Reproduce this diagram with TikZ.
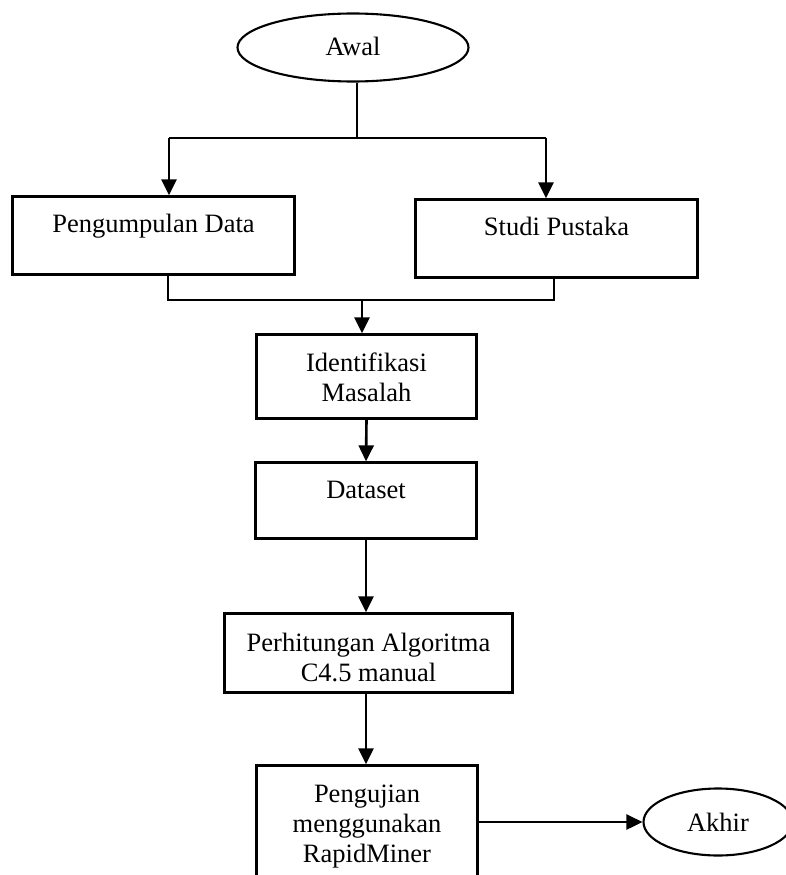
\documentclass[tikz,border=0pt]{standalone}
\usepackage{fontspec}
\setmainfont{Liberation Serif}
\usetikzlibrary{arrows.meta,shapes.geometric}
\begin{document}
\begin{tikzpicture}[x=1pt,y=-1pt,
  txt/.style={font=\fontsize{26.5}{30}\selectfont, align=center, text height=18pt},
  box/.style={txt, draw, line width=2.3pt, rectangle, inner sep=0pt},
  oval/.style={txt, draw, line width=2.1pt, ellipse, inner sep=0pt},
  arr/.style={line width=2.6pt, -{Triangle[length=16pt,width=15pt]}},
  thinline/.style={line width=1.2pt}]
\useasboundingbox (0,0) rectangle (785,875);
\node[oval, minimum width=231pt, minimum height=68pt, text depth=1pt] (awal) at (353,47.5) {Awal};
\node[box, minimum width=282pt, minimum height=78pt, text depth=25pt] (pd) at (153.5,235.5) {Pengumpulan Data};
\node[box, minimum width=282pt, minimum height=78pt, text depth=25pt] (sp) at (556.5,238.5) {Studi Pustaka};
\node[box, minimum width=220pt, minimum height=84pt, text height=49pt, text depth=0pt] (im) at (366.5,376.5) {Identifikasi\\Masalah};
\node[box, minimum width=221pt, minimum height=76pt, text depth=23pt] (ds) at (366,500.5) {Dataset};
\node[box, minimum width=288pt, minimum height=79pt, text height=56pt, text depth=0pt] (ph) at (368.5,653) {Perhitungan Algoritma\\C4.5 manual};
\node[box, minimum width=221pt, minimum height=124pt, text height=78pt, text depth=9pt] (pj) at (367,827.5) {Pengujian\\menggunakan\\RapidMiner};
\node[oval, minimum width=149pt, minimum height=67pt, text depth=0pt] (akhir) at (718,822) {Akhir};

\coordinate (split) at (357,138);
\coordinate (lx) at (169,0);
\coordinate (rx) at (546,0);
\coordinate (join) at (362,300);
\coordinate (bl) at (168,0);
\coordinate (br) at (554,0);

\draw[thinline] (awal.south -| split) -- (split);
\draw[thinline] (split -| lx) -- (split -| rx);
\draw[arr] (split -| lx) -- (pd.north -| lx);
\draw[arr] (split -| rx) -- (sp.north -| rx);
\draw[thinline] (pd.south -| bl) -- (join -| bl) -- (join -| br) -- (sp.south -| br);
\draw[arr] (join) -- (im.north -| join);
\draw[arr] (im.south) -- (ds.north);
\draw[arr] (ds.south) -- (ds.south |- ph.north);
\draw[arr] (ds.south |- ph.south) -- (ds.south |- pj.north);
\draw[arr] (pj.east |- akhir.west) -- (akhir.west);
\end{tikzpicture}
\end{document}
